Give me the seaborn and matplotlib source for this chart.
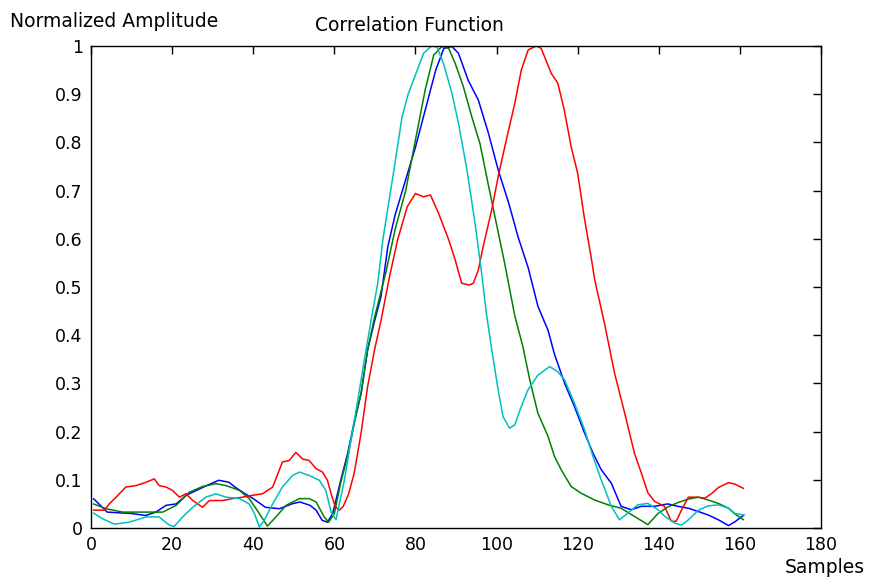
"""
Correlation function plot (MATLAB-style look), redrawn with seaborn.
"""

import numpy as np
import pandas as pd
import matplotlib
matplotlib.use("Agg")
import matplotlib.pyplot as plt
import seaborn as sns

# --- Data ---
blue_x = [0.6, 4, 10, 13.5, 16, 18.5, 21, 23.5, 26, 28.5, 31.5, 34, 35.5, 38, 40,
          43, 46.5, 49.5, 51.5, 54, 55.5, 57, 58.3, 59.6, 61.6, 63.3, 65, 66.6,
          68.2, 70, 71.5, 73.2, 75, 77.5, 80, 82.5, 85, 87, 89, 90.6, 93, 95.5,
          98, 100.4, 103, 105.3, 107.8, 110.2, 112.7, 114.3, 116.8, 119.2, 121.7,
          123.8, 125.8, 128.3, 130.7, 133.2, 135.7, 139, 142.2, 144.7, 147.3,
          149.8, 152.2, 154.7, 157.2, 158.8, 161]
blue_y = [.061, .033, .030, .026, .033, .047, .050, .068, .078, .088, .099, .095,
          .085, .071, .061, .043, .040, .050, .054, .047, .037, .016, .012, .030,
          .100, .155, .224, .279, .369, .432, .480, .584, .65, .72, .79, .87, .95,
          .995, .999, .985, .929, .888, .819, .743, .674, .604, .54, .46, .41,
          .36, .30, .252, .197, .155, .121, .093, .045, .038, .045, .045, .050,
          .045, .041, .034, .027, .017, .005, .013, .027]

green_x = [0.6, 3.7, 7.8, 13.6, 17.7, 21, 24.2, 27.5, 30.8, 33.3, 36.6, 39, 41.5,
           43.5, 45.6, 48.1, 51.4, 53.8, 55.5, 57.5, 58.6, 60, 61.6, 63.3, 65,
           66.6, 68.2, 70, 72.7, 75, 77.6, 80, 82.4, 84.5, 86.5, 88.2, 89.8, 91.8,
           93.9, 95.9, 97.9, 99.6, 102, 104.5, 106.5, 108.2, 110.2, 112.7, 114.3,
           116, 118.4, 120.9, 124.2, 127.5, 130.7, 134, 137.3, 139.8, 142.3,
           144.8, 147.3, 149.8, 152.2, 154.7, 157.2, 158.8, 160.9]
green_y = [.050, .040, .033, .033, .033, .047, .074, .086, .092, .088, .078, .061,
           .030, .004, .023, .047, .061, .061, .054, .023, .012, .030, .095, .150,
           .220, .280, .370, .440, .53, .62, .70, .805, .909, .981, .999, .995,
           .964, .916, .853, .798, .715, .646, .549, .44, .376, .307, .238, .190,
           .148, .120, .086, .072, .058, .048, .041, .024, .007, .030, .044, .053,
           .060, .064, .058, .051, .041, .029, .017]

cyan_x = [0.6, 2.9, 5.8, 9.4, 13.6, 16.8, 19.3, 20.5, 22.6, 25.1, 28.3, 30.8, 33.3,
          36.6, 39, 40.3, 41.5, 42.7, 44.8, 47.2, 49.7, 51.4, 53.8, 56.3, 57.9,
          59.2, 60.4, 62.5, 64.1, 65.8, 67.4, 69.1, 70.7, 72, 74.7, 76.7, 78.2,
          80, 82, 84, 85.3, 86.9, 89, 90.6, 92.7, 94.7, 96.3, 97.5, 98.7, 100.4,
          101.6, 103.2, 104.5, 106.1, 107.7, 110.2, 113.1, 115.1, 116.8, 119.2,
          121.7, 123.8, 125.8, 128.3, 130.3, 132.4, 134.8, 137.3, 139.8, 141.5,
          144, 145.6, 147.3, 149.8, 152.2, 154.7, 157.2, 158.8, 160.9]
cyan_y = [.031, .019, .008, .012, .023, .023, .006, .003, .023, .043, .064, .071,
          .064, .061, .050, .030, .002, .016, .050, .085, .109, .116, .109, .099,
          .078, .033, .017, .100, .183, .266, .349, .432, .508, .60, .743, .853,
          .90, .94, .985, 1.0, .998, .964, .902, .840, .743, .632, .53, .445,
          .376, .286, .231, .207, .214, .252, .286, .317, .335, .324, .307, .259,
          .204, .148, .100, .045, .017, .031, .048, .051, .038, .024, .010, .006,
          .017, .037, .046, .048, .041, .030, .027]

red_x = [0.6, 3.3, 4.5, 6.2, 8.6, 11.1, 13.6, 15.6, 16.8, 18.5, 20.1, 21.8, 23.4,
         25.1, 27.5, 29.2, 32.5, 34.9, 37.4, 39.9, 42.3, 44.8, 47.2, 48.9, 50.5,
         52.2, 53.8, 55.5, 57.1, 58.3, 59.2, 60.2, 61.2, 62.2, 63.5, 64.9, 66.6,
         68.2, 69.9, 71.5, 73.6, 75.6, 78, 80, 82, 83.7, 85.7, 88.2, 89.8, 91.4,
         93.2, 94.3, 95.5, 96.7, 98.8, 100.4, 102.4, 104.5, 106.1, 107.8, 109.8,
         111, 113.5, 115.1, 116.7, 118.4, 120, 121.6, 123.3, 124.2, 126.6, 129.1,
         131.6, 134, 135.7, 137.3, 139, 141.4, 143.1, 144.3, 145.6, 147.3, 149.3,
         151.4, 153.1, 154.7, 157.2, 158.8, 160.9]
red_y = [.037, .037, .050, .064, .085, .088, .095, .102, .088, .085, .078, .064,
         .071, .057, .043, .057, .057, .061, .064, .068, .071, .085, .137, .140,
         .157, .143, .140, .123, .116, .099, .071, .045, .037, .045, .070, .114,
         .197, .293, .369, .43, .521, .598, .667, .694, .687, .691, .653, .598,
         .556, .508, .504, .508, .535, .584, .660, .729, .805, .881, .950, .992,
         1.0, .995, .943, .923, .867, .791, .736, .646, .563, .515, .425, .321,
         .238, .155, .114, .073, .055, .045, .014, .014, .037, .064, .064, .062,
         .072, .084, .094, .091, .082]

x_ticks = [0, 20, 40, 60, 80, 100, 120, 140, 160, 180]
y_ticks = [0, 0.1, 0.2, 0.3, 0.4, 0.5, 0.6, 0.7, 0.8, 0.9, 1]
y_tick_labels = ["0", "0.1", "0.2", "0.3", "0.4", "0.5", "0.6", "0.7", "0.8", "0.9", "1"]

# --- Style ---
sns.set_style("white")
plt.rcParams["font.family"] = ["DejaVu Sans"]
plt.rcParams["text.color"] = "black"
plt.rcParams["xtick.direction"] = "in"
plt.rcParams["ytick.direction"] = "in"

series = [
    (blue_x, blue_y, "#0000FF"),
    (green_x, green_y, "#008000"),
    (red_x, red_y, "#FF0000"),
    (cyan_x, cyan_y, "#00BFBF"),
]

fig = plt.figure(figsize=(8.71, 5.8), dpi=100)
ax = fig.add_axes([91 / 871, 52 / 580, 730 / 871, 482 / 580])

for xs, ys, color in series:
    df = pd.DataFrame({"x": xs, "y": ys})
    sns.lineplot(data=df, x="x", y="y", color=color, linewidth=1.1,
                 estimator=None, sort=False, ax=ax)

ax.set_xlim(0, 180)
ax.set_ylim(0, 1)
ax.set_xticks(x_ticks)
ax.set_xticklabels([str(t) for t in x_ticks])
ax.set_yticks(y_ticks)
ax.set_yticklabels(y_tick_labels)
ax.set_xlabel("")
ax.set_ylabel("")
ax.tick_params(axis="both", which="both", labelsize=12.5, length=6, width=1,
               color="black", labelcolor="black", top=True, right=True, pad=6)
for side in ax.spines.values():
    side.set_color("black")
    side.set_linewidth(1.0)

fig.text(10 / 871, 1 - 27 / 580, "Normalized Amplitude", fontsize=13.5,
         color="black", ha="left", va="baseline")
fig.text(315 / 871, 1 - 31 / 580, "Correlation Function", fontsize=13.5,
         color="black", ha="left", va="baseline")
fig.text(785 / 871, 1 - 573 / 580, "Samples", fontsize=13.5,
         color="black", ha="left", va="baseline")

fig.savefig("out.png", dpi=100, facecolor="white")
plt.close(fig)
